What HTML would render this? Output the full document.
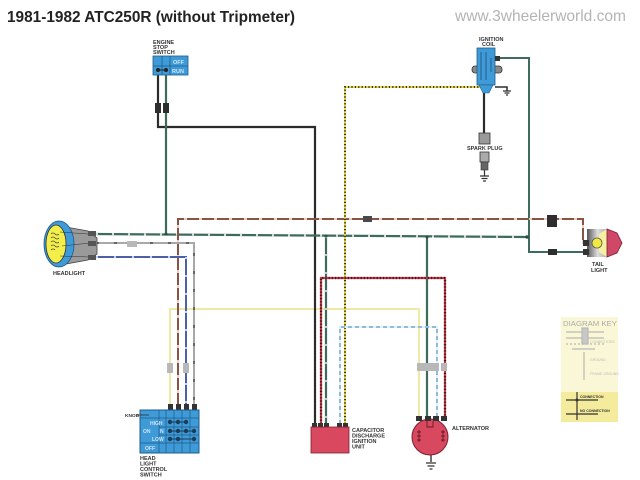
<!DOCTYPE html>
<html><head><meta charset="utf-8"><style>
html,body{margin:0;padding:0;background:#fff;}
svg{display:block;}
text{font-family:"Liberation Sans",sans-serif;}
.lb{font-size:5.5px;font-weight:bold;fill:#333;}
</style></head><body>
<svg width="640" height="480" viewBox="0 0 640 480" xmlns="http://www.w3.org/2000/svg">
<rect width="640" height="480" fill="#fff"/>
<text x="7" y="22" font-size="16" font-weight="bold" fill="#222" textLength="288" lengthAdjust="spacingAndGlyphs">1981-1982 ATC250R (without Tripmeter)</text>
<text x="455" y="21" font-size="16" fill="#b4b4b4" textLength="171" lengthAdjust="spacingAndGlyphs">www.3wheelerworld.com</text>

<!-- Diagram key -->
<rect x="561" y="317" width="57" height="75" fill="#faf7d6"/>
<rect x="561" y="392" width="57" height="30" fill="#f4ec9c"/>
<text x="563" y="326" font-size="7" fill="#aaa" textLength="54" lengthAdjust="spacingAndGlyphs">DIAGRAM KEY</text>
<g stroke="#b8b8b8" stroke-width="1.2" fill="none">
<line x1="566" y1="332" x2="604" y2="332"/><line x1="566" y1="338" x2="604" y2="338"/>
<rect x="582" y="328" width="6" height="16" fill="#c8c8c8"/>
<line x1="566" y1="344" x2="604" y2="344" stroke-dasharray="2 2"/>
<line x1="572" y1="349" x2="595" y2="349"/>
<line x1="584" y1="352" x2="584" y2="380"/>
</g>
<text x="590" y="343" font-size="3.5" fill="#bbb">CONNECTORS</text>
<text x="590" y="361" font-size="3.5" fill="#bbb">GROUND</text>
<text x="590" y="375" font-size="3.5" fill="#bbb">FRAME GROUND</text>
<g stroke="#333" stroke-width="1.2">
<line x1="566" y1="400" x2="598" y2="400"/><line x1="577" y1="392" x2="577" y2="420"/>
<line x1="566" y1="414" x2="598" y2="414"/>
</g>
<circle cx="577" cy="400" r="1.5" fill="#333"/>
<text x="580" y="398" font-size="3.5" font-weight="bold" fill="#333">CONNECTION</text>
<text x="580" y="412" font-size="3.5" font-weight="bold" fill="#333">NO CONNECTION</text>

<!-- Wires -->
<g fill="none" stroke-linejoin="miter">
<!-- yellow pale -->
<path d="M170 405 V309 H419 V418" stroke="#efe9a6" stroke-width="2"/>
<!-- black engine stop -->
<path d="M158 75 V127 H315 V424" stroke="#2b2b2b" stroke-width="2.2"/>
<!-- green engine stop -->
<path d="M166 75 V234" stroke="#3d6c5c" stroke-width="2.2"/>
<!-- main green -->
<path d="M96 234 L527 237" stroke="#3d6c5c" stroke-width="2.2"/>
<path d="M96 234 L527 237" stroke="#dcdcdc" stroke-width="2.2" stroke-dasharray="2 14"/>
<path d="M500 58 H529 V252 H588" stroke="#3d6c5c" stroke-width="2"/>
<path d="M326 236 V424" stroke="#3d6c5c" stroke-width="2.2"/>
<path d="M326 236 V424" stroke="#c8c8c8" stroke-width="2.2" stroke-dasharray="2 16"/>
<path d="M427 237 V418" stroke="#3d6c5c" stroke-width="2.2"/>
<!-- brown -->
<path d="M178 405 V219 H583 V243 H588" stroke="#e8d0c8" stroke-width="2"/>
<path d="M178 405 V219 H583 V243 H588" stroke="#8a5444" stroke-width="2" stroke-dasharray="12 3"/>
<!-- blue -->
<path d="M96 257 H186 V405" stroke="#4c60aa" stroke-width="2"/>
<path d="M96 257 H186 V405" stroke="#c8d0ea" stroke-width="2" stroke-dasharray="2 16"/>
<!-- gray -->
<path d="M96 243 H194 V405" stroke="#a8a8a8" stroke-width="2"/>
<path d="M96 243 H194 V405" stroke="#666" stroke-width="2" stroke-dasharray="3 15"/>
<!-- yellow/black to coil -->
<path d="M345 424 V87 H480" stroke="#e8dc40" stroke-width="2"/>
<path d="M345 424 V87 H480" stroke="#333" stroke-width="2" stroke-dasharray="1.2 2.2"/>
<!-- red/black -->
<path d="M321 424 V278 H445 V418" stroke="#c83848" stroke-width="2.2"/>
<path d="M321 424 V278 H445 V418" stroke="#3a1a1a" stroke-width="2.2" stroke-dasharray="1.2 2"/>
<!-- white/blue -->
<path d="M340 424 V327 H437 V418" stroke="#e8eef2" stroke-width="2"/>
<path d="M340 424 V327 H437 V418" stroke="#8fbcd8" stroke-width="2" stroke-dasharray="4 3"/>
<!-- coil to plug -->
<path d="M484 92 V134" stroke="#2b2b2b" stroke-width="2.2"/>
<path d="M495 87 H507 V91" stroke="#2b2b2b" stroke-width="1.5"/>
</g>
<!-- junction dots -->
<g fill="#2f4f44">
<circle cx="166" cy="234" r="1.5"/><circle cx="326" cy="236" r="1.5"/><circle cx="427" cy="237" r="1.5"/><circle cx="527" cy="237" r="1.7"/>
</g>

<!-- connectors -->
<g fill="#2e2e2e">
<rect x="155" y="103" width="6" height="10"/><rect x="163" y="103" width="6" height="10"/>
<rect x="363" y="216" width="9" height="6" fill="#4a4a4a"/>
<rect x="547" y="215" width="10" height="12"/>
<rect x="548" y="249" width="9" height="6"/>
</g>
<g fill="#b8b8b8">
<rect x="127" y="241" width="10" height="6"/>
<rect x="167" y="363" width="6" height="10"/><rect x="183" y="363" width="6" height="10"/>
<rect x="417" y="363" width="22" height="8"/><rect x="441" y="363" width="6" height="8"/>
</g>

<!-- Engine stop switch -->
<text class="lb" x="153" y="44" font-size="4.8">ENGINE</text>
<text class="lb" x="153" y="49" font-size="4.8">STOP</text>
<text class="lb" x="153" y="54" font-size="4.8">SWITCH</text>
<rect x="153" y="56" width="35" height="19" fill="#3f9ad8" stroke="#1f5c88" stroke-width="0.8"/>
<g stroke="#1f5c88" stroke-width="0.8"><line x1="162" y1="56" x2="162" y2="75"/><line x1="170" y1="56" x2="170" y2="75"/><line x1="153" y1="66" x2="188" y2="66"/></g>
<text x="173" y="64" font-size="5.5" font-weight="bold" fill="#cfe6f6">OFF</text>
<text x="172" y="73" font-size="5.5" font-weight="bold" fill="#cfe6f6">RUN</text>
<line x1="158" y1="70" x2="166" y2="70" stroke="#222" stroke-width="1"/>
<circle cx="158" cy="70" r="2" fill="#222"/><circle cx="166" cy="70" r="2" fill="#222"/>

<!-- Ignition coil -->
<text class="lb" x="479" y="41" font-size="4.8">IGNITION</text>
<text class="lb" x="482" y="46" font-size="4.8">COIL</text>
<rect x="472" y="66" width="30" height="7" rx="3" fill="#888" stroke="#333" stroke-width="0.8"/>
<rect x="477" y="48" width="18" height="37" fill="#3f9ad8" stroke="#1f5c88" stroke-width="0.8"/>
<g stroke="#1f4f78" stroke-width="0.8"><line x1="481" y1="52" x2="481" y2="80"/><line x1="486" y1="52" x2="486" y2="80"/><line x1="491" y1="58" x2="491" y2="72"/></g>
<polygon points="479,85 493,85 489,93 483,93" fill="#3f9ad8" stroke="#1f5c88" stroke-width="0.6"/>
<rect x="495" y="56" width="5" height="5" fill="#333"/>
<path d="M503 91 h8 M504.5 93 h5 M506 95 h2" stroke="#333" stroke-width="1.3"/>
<!-- spark plug -->
<rect x="479" y="133" width="11" height="11" fill="#999" stroke="#333" stroke-width="0.8"/>
<text class="lb" x="467" y="150" font-size="4.8">SPARK PLUG</text>
<rect x="480" y="152" width="9" height="10" fill="#aaa" stroke="#333" stroke-width="0.8"/>
<rect x="481" y="162" width="7" height="8" fill="#666" stroke="#333" stroke-width="0.6"/>
<line x1="484.5" y1="170" x2="484.5" y2="176" stroke="#333" stroke-width="1.2"/>
<path d="M480 176 h9 M481.5 178.5 h6 M483 181 h3" stroke="#333" stroke-width="1.2"/>

<!-- Headlight -->
<polygon points="66,227 88,231 97,238 97,254 88,260 66,264" fill="#9a9a9a" stroke="#444" stroke-width="0.8"/>
<ellipse cx="59" cy="244" rx="15" ry="23" fill="#3f9ad8" stroke="#1f5c88" stroke-width="0.8"/>
<ellipse cx="56" cy="244" rx="10" ry="19" fill="#f3ee4a" stroke="#333" stroke-width="0.8"/>
<g stroke="#333" stroke-width="0.6" fill="none">
<path d="M51 234 q2 -2 4 0 q2 2 4 0 M51 238 q2 -2 4 0 q2 2 4 0 M51 242 q2 -2 4 0 q2 2 4 0 M51 246 q2 -2 4 0 q2 2 4 0 M51 250 q2 -2 4 0"/>
<path d="M60 232 L88 234 M62 246 L90 243 M60 256 L90 257"/>
</g>
<rect x="88" y="231" width="8" height="5" fill="#555"/><rect x="88" y="241" width="8" height="5" fill="#555"/><rect x="88" y="255" width="8" height="5" fill="#555"/>
<text class="lb" x="53" y="275">HEADLIGHT</text>

<!-- Tail light -->
<defs><linearGradient id="tg" x1="0" x2="1"><stop offset="0" stop-color="#555"/><stop offset="0.5" stop-color="#ddd"/><stop offset="1" stop-color="#aaa"/></linearGradient></defs>
<rect x="587" y="229" width="21" height="28" fill="url(#tg)"/>
<polygon points="599,234 607,229 607,257 599,252" fill="#f6f0a0"/>
<polygon points="607,229 617,233 622,243 617,253 607,257" fill="#d04868" stroke="#7a2030" stroke-width="0.8"/>
<circle cx="597" cy="243" r="5" fill="#f2ea40" stroke="#555" stroke-width="0.8"/>
<rect x="583" y="240" width="6" height="6" fill="#333"/><rect x="583" y="249" width="6" height="6" fill="#333"/>
<text class="lb" x="592" y="266" font-size="5">TAIL</text>
<text class="lb" x="591" y="272" font-size="5">LIGHT</text>

<!-- Headlight control switch -->
<g fill="#333"><rect x="168" y="404" width="5" height="6"/><rect x="176" y="404" width="5" height="6"/><rect x="184" y="404" width="5" height="6"/><rect x="192" y="404" width="5" height="6"/></g>
<rect x="140" y="410" width="59" height="43" fill="#3f9ad8" stroke="#1f5c88" stroke-width="1"/>
<g stroke="#1f5c88" stroke-width="0.7">
<line x1="140" y1="418" x2="199" y2="418"/><line x1="159" y1="427" x2="199" y2="427"/><line x1="159" y1="435" x2="199" y2="435"/><line x1="140" y1="443" x2="199" y2="443"/>
<line x1="159" y1="410" x2="159" y2="453"/><line x1="166" y1="410" x2="166" y2="453"/><line x1="174" y1="410" x2="174" y2="453"/><line x1="182" y1="410" x2="182" y2="453"/><line x1="190" y1="410" x2="190" y2="453"/>
</g>
<text x="125" y="417" font-size="4.8" font-weight="bold" fill="#333">KNOB</text>
<path d="M137 415 h12" stroke="#333" stroke-width="0.8"/>
<text x="150" y="425" font-size="5" font-weight="bold" fill="#cfe6f6">HIGH</text>
<text x="143" y="433" font-size="5" font-weight="bold" fill="#cfe6f6">ON</text>
<text x="160" y="433" font-size="5" font-weight="bold" fill="#cfe6f6">N</text>
<text x="152" y="441" font-size="5" font-weight="bold" fill="#cfe6f6">LOW</text>
<text x="145" y="450" font-size="5" font-weight="bold" fill="#cfe6f6">OFF</text>
<g stroke="#1c3c58" stroke-width="1" fill="#1c3c58">
<line x1="170" y1="422" x2="186" y2="422"/><circle cx="170" cy="422" r="1.7"/><circle cx="178" cy="422" r="1.7"/><circle cx="186" cy="422" r="1.7"/>
<line x1="170" y1="431" x2="194" y2="431"/><circle cx="170" cy="431" r="1.7"/><circle cx="178" cy="431" r="1.7"/><circle cx="186" cy="431" r="1.7"/><circle cx="194" cy="431" r="1.7"/>
<line x1="170" y1="439" x2="194" y2="439"/><circle cx="170" cy="439" r="1.7"/><circle cx="178" cy="439" r="1.7"/><circle cx="194" cy="439" r="1.7"/>
</g>
<text class="lb" x="140" y="460">HEAD</text>
<text class="lb" x="140" y="465.5">LIGHT</text>
<text class="lb" x="140" y="471">CONTROL</text>
<text class="lb" x="140" y="476.5">SWITCH</text>

<!-- CDI -->
<g fill="#333"><rect x="312" y="423" width="5" height="5"/><rect x="318" y="423" width="5" height="5"/><rect x="324" y="423" width="5" height="5"/><rect x="337" y="423" width="5" height="5"/><rect x="343" y="423" width="5" height="5"/></g>
<rect x="311" y="427" width="38" height="26" fill="#d8485e" stroke="#7a2030" stroke-width="0.8"/>
<text class="lb" x="352" y="432">CAPACITOR</text>
<text class="lb" x="352" y="437.5">DISCHARGE</text>
<text class="lb" x="352" y="443">IGNITION</text>
<text class="lb" x="352" y="448.5">UNIT</text>

<!-- Alternator -->
<circle cx="430" cy="437" r="18" fill="#d8485e" stroke="#7a2030" stroke-width="1"/>
<g fill="#333"><rect x="416" y="416" width="6" height="5"/><rect x="425" y="416" width="6" height="5"/><rect x="433" y="416" width="6" height="5"/><rect x="441" y="416" width="6" height="5"/></g>
<g stroke="#4a1018" stroke-width="0.7" fill="none">
<path d="M427 421 v6 h6 v-6"/>
<path d="M419 430 v12 M443 430 v12"/>
<path d="M417 432 h4 M417 436 h4 M417 440 h4 M441 432 h4 M441 436 h4 M441 440 h4"/>
</g>
<line x1="431" y1="455" x2="431" y2="462" stroke="#333" stroke-width="1.4"/>
<path d="M426 463 h10 M427.5 466 h7 M429.5 469 h3" stroke="#333" stroke-width="1.3"/>
<text class="lb" x="452" y="430">ALTERNATOR</text>
</svg>
</body></html>
